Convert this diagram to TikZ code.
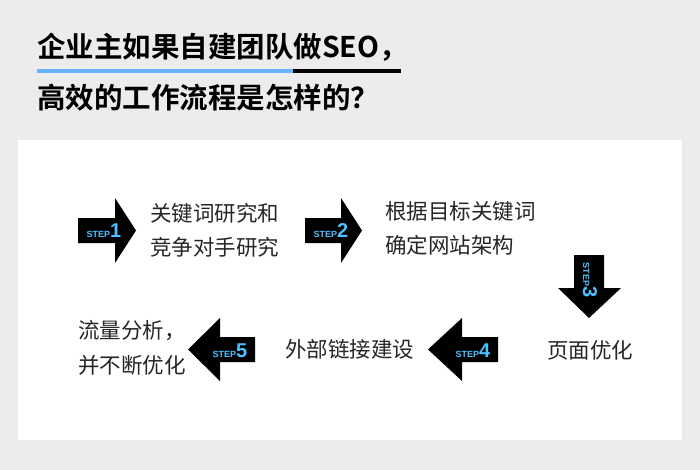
\documentclass[tikz,border=0pt]{standalone}
\usepackage{fontspec}
\setmainfont{Noto Sans CJK SC}
\newfontfamily\cjkb{Noto Sans CJK SC Bold}
\newfontfamily\stepf{Liberation Sans Bold}
\begin{document}
\begin{tikzpicture}[x=1pt,y=-1pt,
  txt/.style={font=\fontsize{21.5}{21.5}\selectfont, text=black!85, anchor=west, inner sep=0},
  ttl/.style={font=\cjkb\fontsize{28.5}{28.5}\selectfont, anchor=west, inner sep=0},
  steplbl/.style={text=blue!35!cyan!70!white, inner sep=0}]
\fill[gray!15] (0,0) rectangle (700,470);
\useasboundingbox (0,0) rectangle (700,470);
\fill[white] (18,140) rectangle (682,440);
\node[ttl] (t1) at (37,47) {企业主如果自建团队做SEO，};
\node[ttl] (t2) at (37,98) {高效的工作流程是怎样的？};
\fill[blue!50!cyan!60] (37,69.5) rectangle (293,73);
\fill[black] (293,69.5) rectangle (401,73);
% right arrows
\fill[black] (78,218) -- (115,218) -- (115,198) -- (136,230.5) -- (115,263) -- (115,243) -- (78,243) -- cycle;
\fill[black] (305,218) -- (341,218) -- (341,198) -- (362,230.5) -- (341,263) -- (341,243) -- (305,243) -- cycle;
% down arrow
\fill[black] (574,255) -- (604,255) -- (604,288) -- (621,288) -- (589,318) -- (558,288) -- (574,288) -- cycle;
% left arrows
\fill[black] (498,337) -- (462,337) -- (462,318) -- (428,349.5) -- (462,381) -- (462,362) -- (498,362) -- cycle;
\fill[black] (255,337) -- (220,337) -- (220,318) -- (188,349.5) -- (220,381) -- (220,362) -- (255,362) -- cycle;
\node[steplbl] (s1) at (104,231) {\stepf\fontsize{9}{9}\selectfont STEP\fontsize{20}{20}\selectfont 1};
\node[steplbl] (s2) at (331,231) {\stepf\fontsize{9}{9}\selectfont STEP\fontsize{20}{20}\selectfont 2};
\node[steplbl,rotate=-90] (s3) at (590,280) {\stepf\fontsize{9}{9}\selectfont STEP\fontsize{20}{20}\selectfont 3};
\node[steplbl] (s4) at (473,351) {\stepf\fontsize{9}{9}\selectfont STEP\fontsize{20}{20}\selectfont 4};
\node[steplbl] (s5) at (230,351) {\stepf\fontsize{9}{9}\selectfont STEP\fontsize{20}{20}\selectfont 5};
\node[txt] (a1) at (150,213) {关键词研究和};
\node[txt] (a2) at (150,247) {竞争对手研究};
\node[txt] (b1) at (385,211) {根据目标关键词};
\node[txt] (b2) at (385,245) {确定网站架构};
\node[txt,anchor=center] (c1) at (590,350) {页面优化};
\node[txt] (d1) at (285,349) {外部链接建设};
\node[txt] (e1) at (78,331) {流量分析，};
\node[txt] (e2) at (78,365) {并不断优化};
\end{tikzpicture}
\end{document}
